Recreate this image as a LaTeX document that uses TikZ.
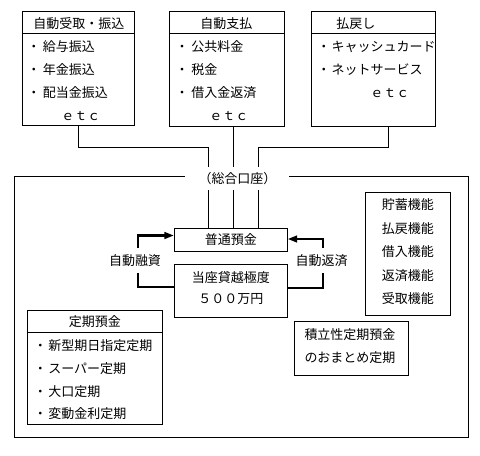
\documentclass[tikz,border=0pt]{standalone}
\usepackage{fontspec}
\setmainfont{Noto Sans CJK JP}
\usetikzlibrary{arrows.meta,fit}
\begin{document}
\begin{tikzpicture}[x=0.75pt,y=-0.75pt,line width=0.75pt,
  box/.style={draw,rectangle,inner sep=0pt},
  txt/.style={inner sep=0pt,font=\fontsize{9.75}{12}\selectfont},
  item/.style={txt,anchor=west},
  thk/.style={line width=1.6pt,-{Triangle[length=7pt,width=5pt]}}]
\useasboundingbox (0,0) rectangle (480,455);
% top boxes
\node[box,fit={(22.7,11.7) (135,125.5)}] (b1) {};
\node[box,fit={(169.7,11.7) (285,126.3)}] (b2) {};
\node[box,fit={(311.7,11.7) (435.7,126.3)}] (b3) {};
\draw (b1.west |- 0,33) -- (b1.east |- 0,33);
\draw (b2.west |- 0,33.7) -- (b2.east |- 0,33.7);
\draw (b3.west |- 0,33.7) -- (b3.east |- 0,33.7);
\node[txt] (h1) at (78.8,24) {自動受取・振込};
\node[txt] (h2) at (226.5,24) {自動支払};
\node[txt] (h3) at (356,24) {払戻し};
\node[item] (i11) at (26.8,47) {・\hspace{2pt}給与振込};
\node[item] (i12) at (26.8,69.5) {・\hspace{2pt}年金振込};
\node[item] (i13) at (26.8,92.7) {・\hspace{2pt}配当金振込};
\node[txt] (e1) at (80.8,116) {ｅｔｃ};
\node[item] (i21) at (175.2,47) {・\hspace{2pt}公共料金};
\node[item] (i22) at (175.2,69.5) {・\hspace{2pt}税金};
\node[item] (i23) at (175.2,92.7) {・\hspace{2pt}借入金返済};
\node[txt] (e2) at (229,116.5) {ｅｔｃ};
\node[item] (i31) at (316.8,47) {・\hspace{1pt}キャッシュカード};
\node[item] (i32) at (316.8,69.5) {・\hspace{1pt}ネットサービス};
\node[txt] (e3) at (390,93.3) {ｅｔｃ};
% main account area
\node[box,fit={(14.3,176.7) (468.3,437.7)}] (outer) {};
\node[box,fit={(174.3,228.3) (287.3,251)}] (futsu) {};
\node[txt] at (futsu.center) (tfutsu) {普通預金};
\node[box,fit={(174.3,264.3) (287.3,317.3)}] (tou) {};
\node[txt] (tou1) at (230.8,277.5) {当座貸越極度};
\node[txt] (tou2) at (230.8,299.5) {５００万円};
% connectors from top boxes
\coordinate (k1) at (208.3,147.7);
\coordinate (k2) at (233.3,147.7);
\coordinate (k3) at (258.3,147.7);
\coordinate (c3) at (388.3,147.7);
\draw (b1.south) |- (k1) -- (k1 |- futsu.north);
\draw (b2.south -| k2) -- (futsu.north -| k2);
\draw (b3.south -| c3) -- (c3) -- (k3) -- (k3 |- futsu.north);
\node[txt,fill=white,minimum width=78pt,minimum height=17.5pt] (acct) at (237.5,178.3) {（総合口座）};
% loan arrows
\coordinate (L1) at (137.7,286.7);
\coordinate (L2) at (137.7,235.5);
\coordinate (R1) at (323.3,288.3);
\coordinate (R2) at (323.3,239);
\draw[thk] (tou.west |- L1) -- (L1) -- (L2) -- (futsu.west |- L2);
\draw[thk] (tou.east |- R1) -- (R1) -- (R2) -- (futsu.east |- R2);
\node[txt,fill=white,minimum height=19pt,inner xsep=1pt] (lfin) at (135,260.7) {自動融資};
\node[txt,fill=white,minimum height=19pt,inner xsep=1pt] (lrep) at (321.7,260.7) {自動返済};
% functions box
\node[box,fit={(365.7,192.3) (450.7,315)}] (func) {};
\node[txt] (f1) at (408,205) {貯蓄機能};
\node[txt] (f2) at (408,228.3) {払戻機能};
\node[txt] (f3) at (408,251.7) {借入機能};
\node[txt] (f4) at (408,275.3) {返済機能};
\node[txt] (f5) at (408,298.3) {受取機能};
% time deposit box
\node[box,fit={(27.3,310.7) (162.3,424)}] (teiki) {};
\draw (teiki.west |- 0,332.3) -- (teiki.east |- 0,332.3);
\node[txt] (ht) at (95,322) {定期預金};
\node[item] (t1) at (33.5,346) {・\hspace{1pt}新型期日指定定期};
\node[item] (t2) at (33.5,369) {・\hspace{1pt}スーパー定期};
\node[item] (t3) at (33.5,391.7) {・\hspace{1pt}大口定期};
\node[item] (t4) at (33.5,414) {・\hspace{1pt}変動金利定期};
% tsumitate box
\node[box,fit={(294.3,321.7) (408.7,375)}] (tsumi) {};
\node[item] (s1) at (304,335) {積立性定期預金};
\node[item] (s2) at (304,357.5) {のおまとめ定期};
\end{tikzpicture}
\end{document}
